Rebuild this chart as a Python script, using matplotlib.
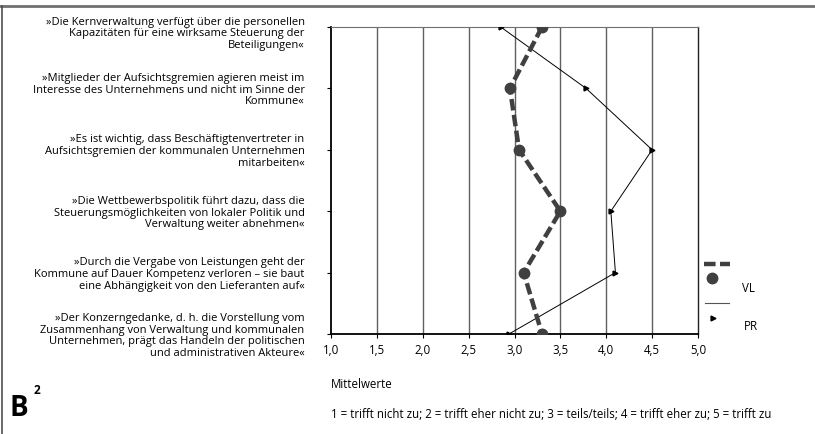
import matplotlib
matplotlib.use("Agg")
import matplotlib.pyplot as plt
from matplotlib.lines import Line2D
from matplotlib.transforms import ScaledTranslation

plt.rcParams['font.family'] = ['Open Sans', 'DejaVu Sans']

statements = [
    "»Die Kernverwaltung verfügt über die personellen\nKapazitäten für eine wirksame Steuerung der\nBeteiligungen«",
    "»Mitglieder der Aufsichtsgremien agieren meist im\nInteresse des Unternehmens und nicht im Sinne der\nKommune«",
    "»Es ist wichtig, dass Beschäftigtenvertreter in\nAufsichtsgremien der kommunalen Unternehmen\nmitarbeiten«",
    "»Die Wettbewerbspolitik führt dazu, dass die\nSteuerungsmöglichkeiten von lokaler Politik und\nVerwaltung weiter abnehmen«",
    "»Durch die Vergabe von Leistungen geht der\nKommune auf Dauer Kompetenz verloren – sie baut\neine Abhängigkeit von den Lieferanten auf«",
    "»Der Konzerngedanke, d. h. die Vorstellung vom\nZusammenhang von Verwaltung und kommunalen\nUnternehmen, prägt das Handeln der politischen\nund administrativen Akteure«",
]
vl_values = [3.3, 2.95, 3.05, 3.5, 3.1, 3.3]
pr_values = [2.85, 3.78, 4.5, 4.05, 4.1, 2.94]
x_ticks = [1.0, 1.5, 2.0, 2.5, 3.0, 3.5, 4.0, 4.5, 5.0]
x_tick_labels = ["1,0", "1,5", "2,0", "2,5", "3,0", "3,5", "4,0", "4,5", "5,0"]

W, H = 815, 434
fig = plt.figure(figsize=(W / 100, H / 100), dpi=100)
ax = fig.add_axes([331 / W, 1 - 334 / H, (698 - 331) / W, (334 - 27) / H])

ypos = list(range(len(statements)))
ax.set_xlim(1.0, 5.0)
ax.set_ylim(len(statements) - 1, 0)

for xv in x_ticks[1:-1]:
    ax.axvline(xv, color='#606060', lw=1.0, zorder=1)

ax.plot(pr_values, ypos, color='black', lw=0.7, marker='>', markersize=3.5,
        markerfacecolor='black', markeredgecolor='black', zorder=3)
ax.plot(vl_values, ypos, color='#404040', lw=3.2, dashes=(2.6, 1.0),
        marker='o', markersize=7.5, markerfacecolor='#404040',
        markeredgecolor='#404040', zorder=4, solid_capstyle='butt')

ax.set_xticks(x_ticks)
ax.set_xticklabels(x_tick_labels, fontsize=8.3)
ax.set_yticks(ypos)
ax.set_yticklabels(statements, fontsize=8.0, linespacing=1.08)
ax.tick_params(axis='y', length=3, width=0.8, pad=16, colors='black')
ax.tick_params(axis='x', length=3, width=0.8, pad=4)

# first label sits slightly lower in the reference
first = ax.get_yticklabels()[0]
first.set_transform(first.get_transform() + ScaledTranslation(0, -3.5 / 72, fig.dpi_scale_trans))

for s in ['left', 'bottom']:
    ax.spines[s].set_color('black')
    ax.spines[s].set_linewidth(1.3)
ax.spines['right'].set_color('#202020')
ax.spines['right'].set_linewidth(1.0)
ax.spines['top'].set_color('#707070')
ax.spines['top'].set_linewidth(0.8)

# Legend (manual, Excel style)
fig.add_artist(Line2D([704 / W, 730 / W], [1 - 264 / H] * 2, color='#404040',
                      lw=3.2, dashes=(2.6, 1.0)))
fig.add_artist(Line2D([712 / W], [1 - 278 / H], marker='o', markersize=7.5,
                      color='#404040', lw=0))
fig.text(742 / W, 1 - 289 / H, "VL", fontsize=8.3, va='center', ha='left')
fig.add_artist(Line2D([705 / W, 729 / W], [1 - 303 / H] * 2, color='#555555', lw=0.8))
fig.add_artist(Line2D([713 / W], [1 - 318 / H], marker='>', markersize=3.5,
                      color='black', lw=0))
fig.text(744 / W, 1 - 326 / H, "PR", fontsize=8.3, va='center', ha='left')

# Bottom texts
bottom_font = ['Liberation Sans Narrow', 'Open Sans', 'DejaVu Sans']
fig.text(331 / W, 1 - 385 / H, "Mittelwerte", fontsize=8.3, va='center', ha='left',
         family=bottom_font)
fig.text(331 / W, 1 - 414 / H,
         "1 = trifft nicht zu; 2 = trifft eher nicht zu; 3 = teils/teils; 4 = trifft eher zu; 5 = trifft zu",
         fontsize=8.3, va='center', ha='left', family=bottom_font)
fig.text(9 / W, 1 - 409 / H, "B", fontsize=20, fontweight='bold', va='center', ha='left')
fig.text(34 / W, 1 - 390 / H, "2", fontsize=8.5, fontweight='bold', va='center', ha='left')

# Frame lines
fig.add_artist(Line2D([0, 1], [1 - 6 / H] * 2, color='#707070', lw=2.0))
fig.add_artist(Line2D([1.5 / W] * 2, [0, 1 - 6 / H], color='#505050', lw=1.2))

fig.savefig("out.png", dpi=100)
